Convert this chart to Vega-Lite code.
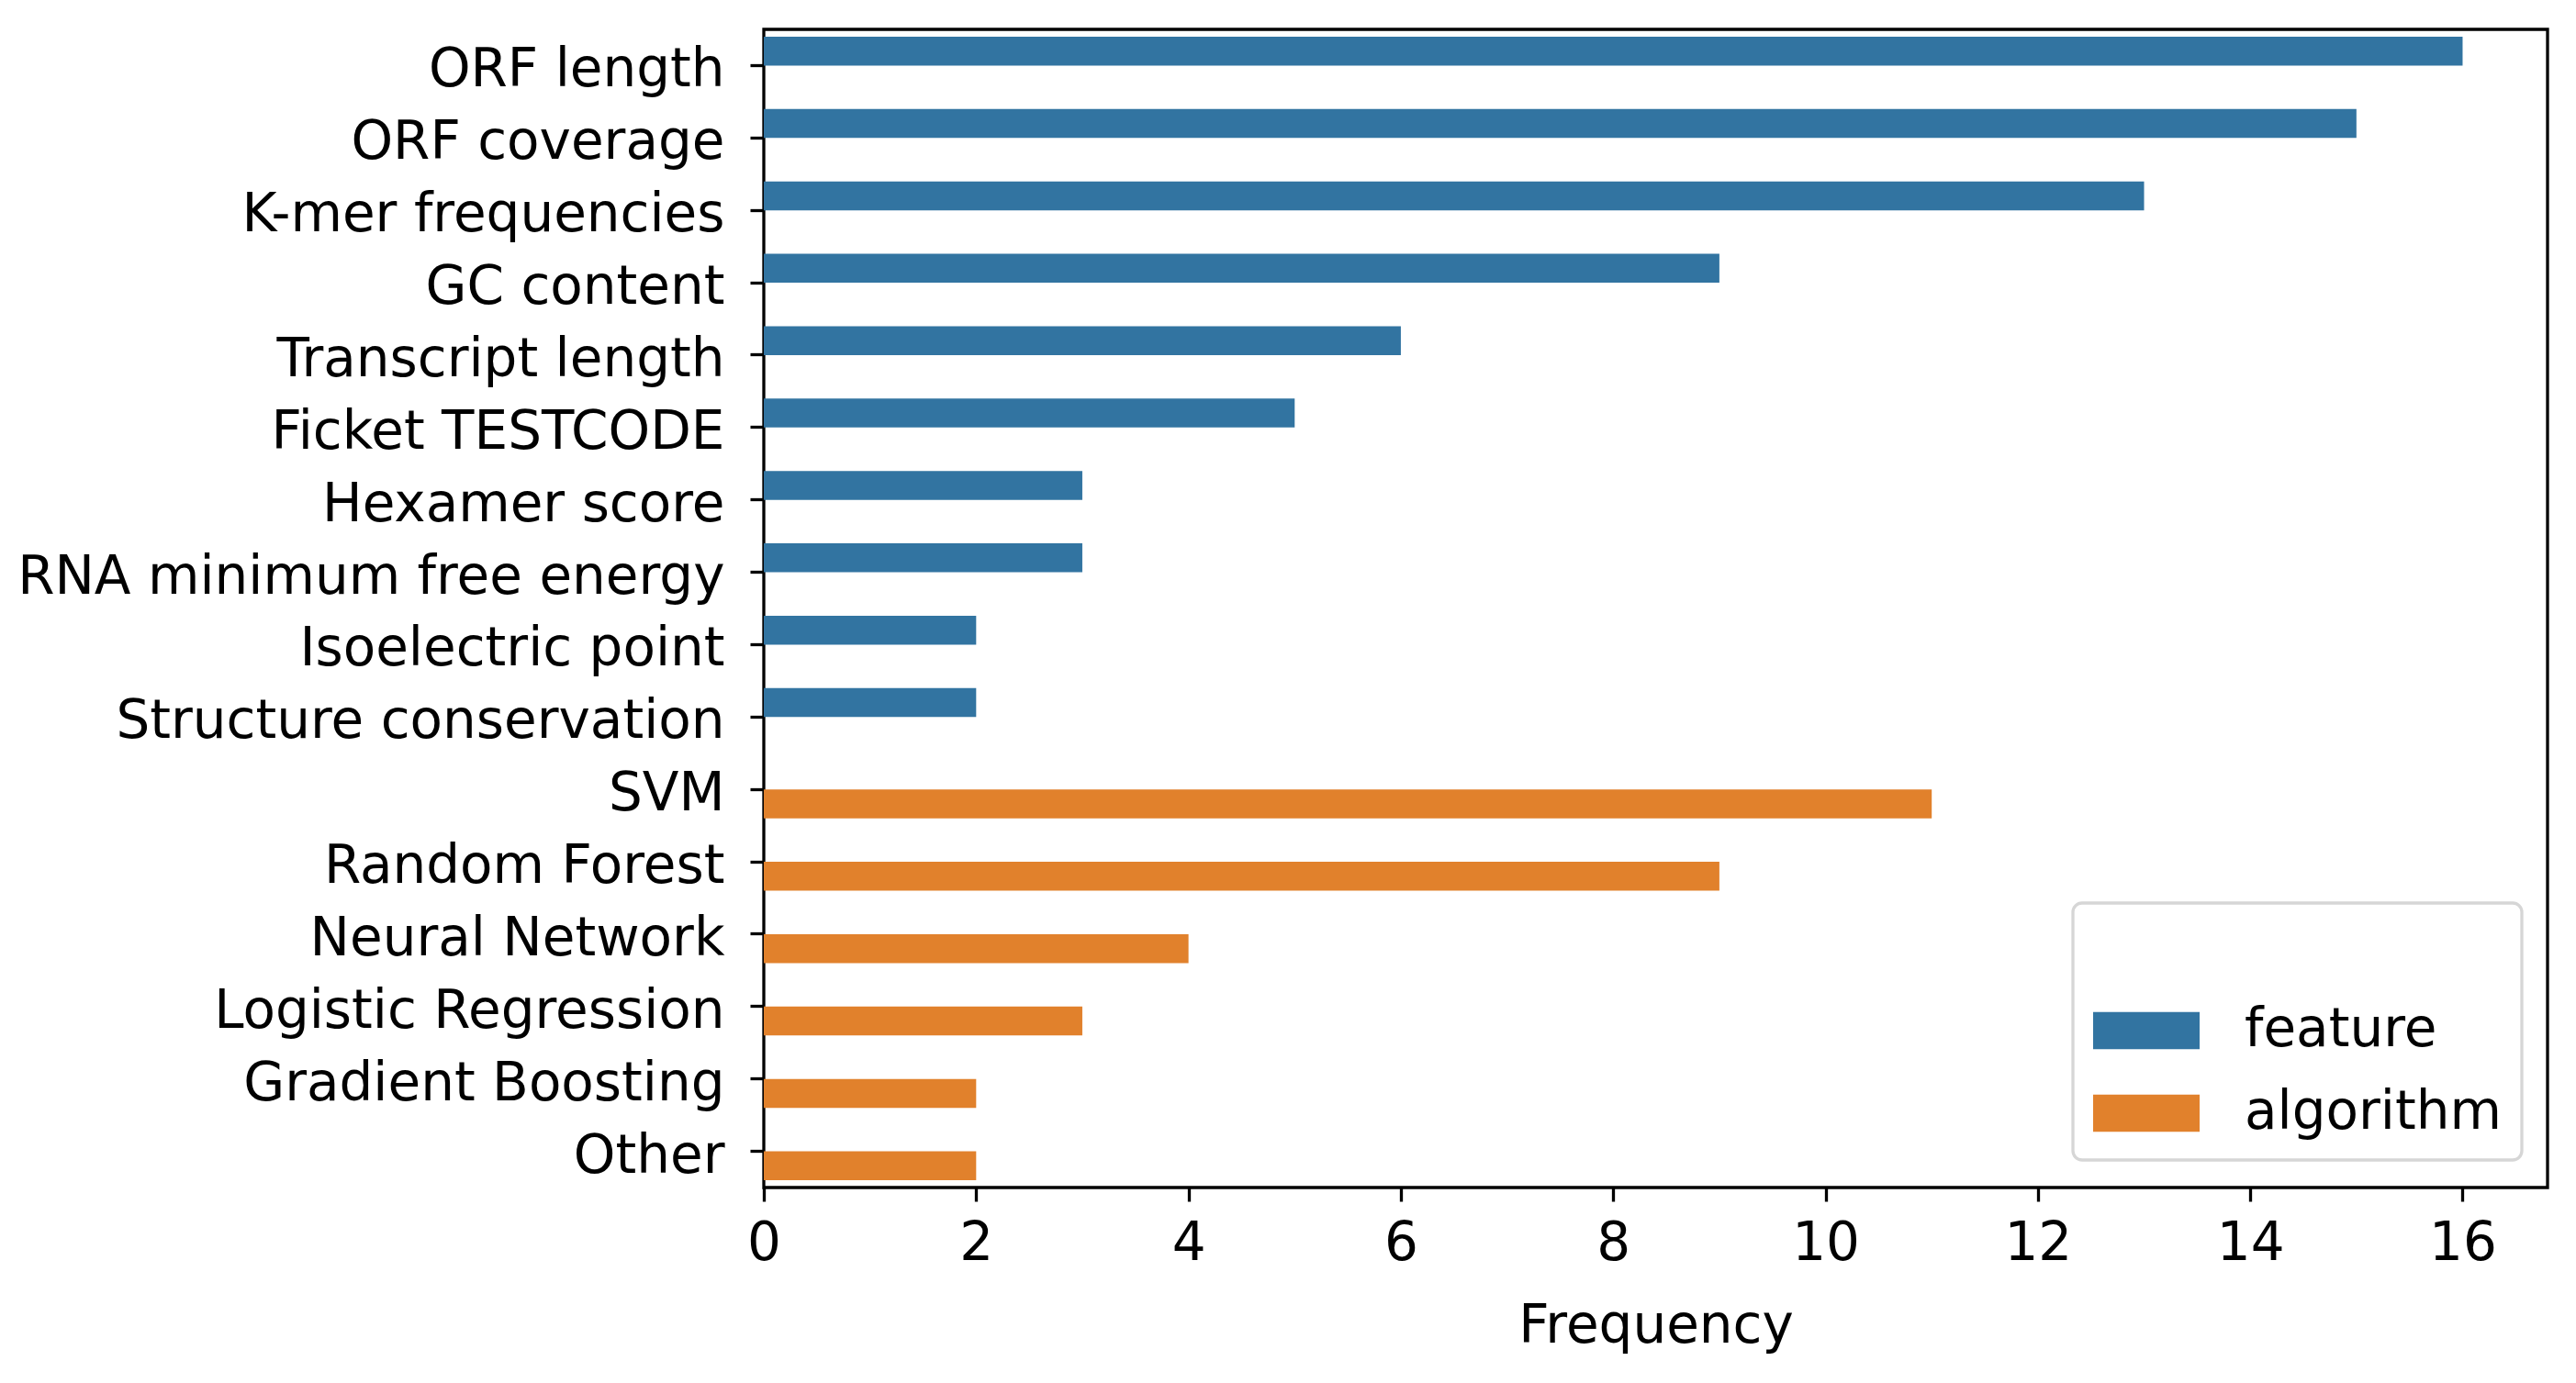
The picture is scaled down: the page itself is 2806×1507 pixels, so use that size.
{
  "$schema": "https://vega.github.io/schema/vega-lite/v6.json",
  "autosize": {"type": "none"},
  "padding": {"left": 832, "top": 32, "right": 31, "bottom": 213},
  "width": 1943,
  "height": 1262,
  "background": "white",
  "data": {
    "values": [
      {"name": "ORF length", "type": "feature", "count": 16},
      {"name": "ORF coverage", "type": "feature", "count": 15},
      {"name": "K-mer frequencies", "type": "feature", "count": 13},
      {"name": "GC content", "type": "feature", "count": 9},
      {"name": "Transcript length", "type": "feature", "count": 6},
      {"name": "Ficket TESTCODE", "type": "feature", "count": 5},
      {"name": "Hexamer score", "type": "feature", "count": 3},
      {"name": "RNA minimum free energy", "type": "feature", "count": 3},
      {"name": "Isoelectric point", "type": "feature", "count": 2},
      {"name": "Structure conservation", "type": "feature", "count": 2},
      {"name": "SVM", "type": "algorithm", "count": 11},
      {"name": "Random Forest", "type": "algorithm", "count": 9},
      {"name": "Neural Network", "type": "algorithm", "count": 4},
      {"name": "Logistic Regression", "type": "algorithm", "count": 3},
      {"name": "Gradient Boosting", "type": "algorithm", "count": 2},
      {"name": "Other", "type": "algorithm", "count": 2}
    ]
  },
  "mark": {"type": "bar"},
  "encoding": {
    "y": {
      "field": "name", "type": "nominal", "sort": null, "title": null,
      "scale": {"paddingInner": 0.2, "paddingOuter": 0.1},
      "axis": {"labelFontSize": 58, "tickSize": 15, "labelPadding": 28, "tickWidth": 3.3, "labelLimit": 0, "labelOffset": 6}
    },
    "yOffset": {
      "field": "type", "type": "nominal",
      "scale": {"domain": ["feature", "algorithm"], "paddingInner": 0, "paddingOuter": 0}
    },
    "x": {
      "field": "count", "type": "quantitative", "title": "Frequency",
      "scale": {"domain": [0, 16.8], "nice": false},
      "axis": {"values": [0, 2, 4, 6, 8, 10, 12, 14, 16], "labelFontSize": 58, "titleFontSize": 58, "labelFlush": false,
               "tickSize": 15, "labelPadding": 17, "tickWidth": 3.3, "titlePadding": 32, "titleFontWeight": "normal"}
    },
    "color": {
      "field": "type", "type": "nominal",
      "scale": {"domain": ["feature", "algorithm"], "range": ["#3274a1", "#e1812c"]},
      "legend": {
        "orient": "none", "legendX": 1426, "legendY": 952,
        "title": " ", "titleFontSize": 58, "titlePadding": 30,
        "labelFontSize": 58, "labelColor": "black", "labelLimit": 0,
        "symbolType": "M-2,-0.7H2V0.7H-2Z", "symbolSize": 3364, "symbolOffset": 29,
        "symbolStrokeWidth": 0, "symbolOpacity": 1,
        "labelOffset": 78, "rowPadding": 32,
        "padding": 22, "fillColor": "white", "strokeColor": "#d6d6d6",
        "cornerRadius": 10
      }
    }
  },
  "config": {
    "font": "DejaVu Sans",
    "view": {"stroke": "black", "strokeWidth": 3.3},
    "axis": {"domain": false, "grid": false, "labelColor": "black", "titleColor": "black", "tickColor": "black", "labelFont": "DejaVu Sans", "titleFont": "DejaVu Sans"},
    "legend": {"labelFont": "DejaVu Sans", "titleFont": "DejaVu Sans", "strokeWidth": 3.3}
  }
}
